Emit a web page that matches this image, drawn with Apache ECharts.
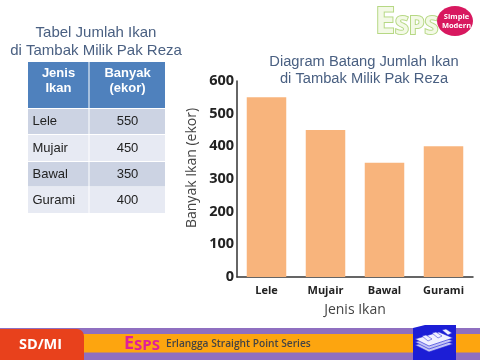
<!DOCTYPE html>
<html><head><meta charset="utf-8">
<style>html,body{margin:0;padding:0;background:#fff}#c{width:480px;height:360px}</style>
<script src="https://cdn.jsdelivr.net/npm/echarts@6/dist/echarts.min.js"></script>
</head><body><div id="c"></div>
<script>
var categories = ['Lele','Mujair','Bawal','Gurami'];
var values = [550,450,350,400];
var yTicks = [0,100,200,300,400,500,600];
var tableTitle = 'Tabel Jumlah Ikan\ndi Tambak Milik Pak Reza';
var chartTitle = 'Diagram Batang Jumlah Ikan\ndi Tambak Milik Pak Reza';
var tableHeaders = ['Jenis\nIkan','Banyak\n(ekor)'];
var sans = '"Liberation Sans",Arial,sans-serif';
var humanist = '"Open Sans","Noto Sans",sans-serif';
var titleCol = '#4a6082';
var chart = echarts.init(document.getElementById('c'), null, {renderer:'canvas'});
var g = [];
function rect(x,y,w,h,fill,r,z){g.push({type:'rect',shape:{x:x,y:y,width:w,height:h,r:r||0},style:{fill:fill},z:z||1});}
function text(x,y,t,font,fill,align,lh,z){g.push({type:'text',x:x,y:y,z:z||5,style:{text:t,font:font,fill:fill,align:align||'center',verticalAlign:'middle',lineHeight:lh}});}
// table title
text(96,42,tableTitle,'15px '+sans,titleCol,'center',18);
// table
var rowsY=[[109,25],[135,26],[162,24.5],[187,26]];
var rowFill=['#ccd3e3','#e7eaf3','#ccd3e3','#e7eaf3'];
rect(28,62,60.5,46,'#4f81bd');rect(89.5,62,75.5,46,'#4f81bd');
text(58.5,81,tableHeaders[0],'bold 13px '+sans,'#fff','center',15.5);
text(127.5,81,tableHeaders[1],'bold 13px '+sans,'#fff','center',15.5);
categories.forEach(function(c,i){
  var r=rowsY[i];
  rect(28,r[0],60.5,r[1],rowFill[i]);rect(89.5,r[0],75.5,r[1],rowFill[i]);
  text(32.5,r[0]+r[1]/2,c,'13px '+sans,'#222','left');
  text(127.5,r[0]+r[1]/2,String(values[i]),'13px '+sans,'#222','center');
});
// footer
rect(0,328,480,32,'#8f6fc0');
rect(0,334,480,18.5,'#fda50f');
g.push({type:'rect',shape:{x:0,y:329,width:84,height:40,r:[0,7,0,0]},style:{fill:'#e8411c'},z:2});
text(40.5,345,'SD/MI','bold 14.5px '+humanist,'#fff','center',null,6);
text(124,343.5,'E','bold 18px '+humanist,'#e0209a','left',null,6);
text(134,345.5,'SPS','bold 15px '+humanist,'#e0209a','left',null,6);
text(166,344.5,'Erlangga Straight Point Series','600 10.2px '+humanist,'#444','left',null,6);
// book icon
g.push({type:'polygon',shape:{points:[[413,328],[425,325],[456,325],[456,360],[413,360]]},style:{fill:'#1c1ed6'},z:3});
[[345],[342],[339]].forEach(function(a,i){
  g.push({type:'polygon',shape:{points:[[415,a[0]],[439,a[0]-7],[453,a[0]-1],[429,a[0]+7]]},style:{fill:i==2?'#f0f0ff':'#c4c5f5',stroke:'#1c1ed6',lineWidth:.6},z:4+i});
});
[[422,336],[432,333],[442,330]].forEach(function(a,i){
  g.push({type:'polygon',shape:{points:[[a[0],a[1]],[a[0]+4,a[1]-1],[a[0]+10,a[1]+3],[a[0]+6,a[1]+5]]},style:{fill:'#f0f0ff',stroke:'#1c1ed6',lineWidth:.5},z:8});
});
// logo
g.push({type:'text',x:375,y:22.5,z:4,style:{text:'E',font:'bold 36px '+humanist,fill:'#f3f9e6',stroke:'#b6d884',lineWidth:2,align:'left',verticalAlign:'middle'}});
g.push({type:'text',x:395,y:26.5,z:4,style:{text:'SPS',font:'bold 25px '+humanist,fill:'#f3f9e6',stroke:'#b6d884',lineWidth:2,align:'left',verticalAlign:'middle'}});
g.push({type:'ellipse',shape:{cx:455,cy:21,rx:18,ry:15},style:{fill:'#d8185f'},z:5});
text(456.5,21,'Simple\nModern','bold 7.5px '+humanist,'#fff','center',9,6);

chart.setOption({
  animation:false,
  title:{text:chartTitle,left:359,top:48,textAlign:'center',
    textStyle:{fontFamily:sans,fontSize:14.7,fontWeight:'normal',color:titleCol,lineHeight:17}},
  grid:{left:237,right:7,top:81,bottom:83,containLabel:false},
  xAxis:{type:'category',data:categories,name:'Jenis Ikan',nameLocation:'middle',nameGap:26,
    nameTextStyle:{fontFamily:humanist,fontSize:14,color:'#444'},
    axisLine:{lineStyle:{color:'#333',width:1.5}},axisTick:{show:false},
    axisLabel:{fontFamily:humanist,fontSize:11,fontWeight:'bold',color:'#222',margin:8,interval:0}},
  yAxis:{type:'value',min:yTicks[0],max:yTicks[yTicks.length-1],interval:100,
    name:'Banyak Ikan (ekor)',nameLocation:'middle',nameGap:38,
    nameTextStyle:{fontFamily:humanist,fontSize:14,color:'#444',padding:[0,0,0,22]},
    axisLine:{show:true,lineStyle:{color:'#333',width:1.5}},axisTick:{show:false},splitLine:{show:false},
    axisLabel:{fontFamily:humanist,fontSize:14.5,fontWeight:'bold',color:'#222',margin:3}},
  series:[{type:'bar',data:values,barWidth:39.5,itemStyle:{color:'#f8b47c'}}],
  graphic:{elements:g}
});
</script></body></html>
